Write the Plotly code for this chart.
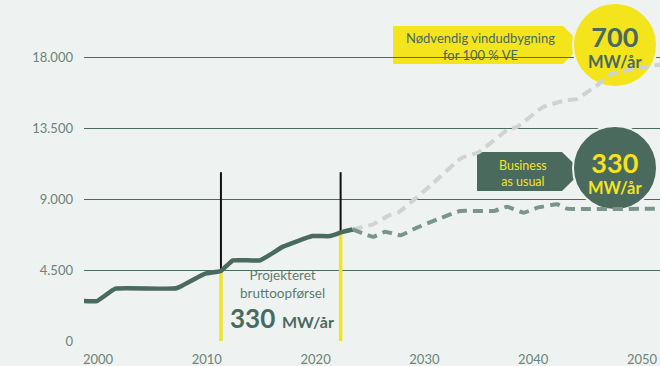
import numpy as np
import plotly.graph_objects as go

# ---------------- data ----------------
hist_years = [1998.7, 1999.9, 2001.6, 2007.2, 2009.8, 2011.3, 2012.4, 2014.9, 2017.0, 2019.7, 2021.3, 2022.4, 2023.4]
hist_vals = [2530, 2530, 3320, 3340, 4260, 4440, 5110, 5110, 5980, 6650, 6650, 6900, 7070]

ve_years = [2023.4, 2025.3, 2026.7, 2027.6, 2030.8, 2033.4, 2035.0, 2037.6, 2038.5, 2040.9, 2043.1, 2044.0, 2045.9, 2047.1, 2049.2, 2051.7]
ve_vals = [7070, 7400, 7950, 8140, 10000, 11600, 11970, 13370, 13560, 14830, 15270, 15330, 16220, 16900, 17250, 17520]

bau_years = [2023.4, 2025.3, 2026.4, 2027.8, 2029.3, 2031.2, 2033.3, 2036.4, 2037.6, 2039.1, 2040.4, 2042.2, 2043.1, 2051.7]
bau_vals = [7070, 6600, 6930, 6700, 7180, 7710, 8240, 8240, 8510, 8130, 8450, 8660, 8390, 8390]

marker_years = [2011.3, 2022.3]
marker_top = 10700

y_ticks = [0, 4500, 9000, 13500, 18000]
y_ticktext = ["0", "4.500", "9.000", "13.500", "18.000"]
x_ticks = [2000, 2010, 2020, 2030, 2040, 2050]
x_ticktext = ["2000", "2010", "2020", "2030", "2040", "2050"]

# ---------------- style ----------------
BG = "#eef2f0"
DARK = "#4a6a5e"
YEL = "#f3e41c"
GRAY = "#cfd3d1"
BAUC = "#7a9589"
TICKC = "#6a857a"
FONT = "Lato"

W, H = 660, 366
L, R, T, B = 84, 0, 0, 25
pw, ph = W - L - R, H - T - B

def px(x):
    return (x - L) / pw

def py(y):
    return (H - B - y) / ph

# axis ranges derived from pixel calibration (2000 at x=98 px, 10.88 px per year)
ppy = 10.88
x_range = [2000 + (L - 98) / ppy, 2000 + (W - 98) / ppy]
y_range = [0, ph / 284 * 18000]

def data_x(xpix):
    return x_range[0] + (xpix - L) / pw * (x_range[1] - x_range[0])

def data_y(ypix):
    return (H - B - ypix) / ph * y_range[1]

fig = go.Figure()

# circles (drawn first so the grey dashed line passes over the yellow one)
fig.add_trace(go.Scatter(
    x=[data_x(615)], y=[data_y(45)], mode="markers",
    marker=dict(size=84, color=YEL, line=dict(color=BG, width=2)),
    hoverinfo="skip", showlegend=False))
fig.add_trace(go.Scatter(
    x=[data_x(615)], y=[data_y(168)], mode="markers",
    marker=dict(size=84, color=DARK, line=dict(color=BG, width=2)),
    hoverinfo="skip", showlegend=False))

# marker vertical lines
for yr in marker_years:
    v = float(np.interp(yr, hist_years, hist_vals))
    fig.add_trace(go.Scatter(x=[yr, yr], y=[0, v], mode="lines",
                             line=dict(color=YEL, width=3.5), hoverinfo="skip", showlegend=False))
    fig.add_trace(go.Scatter(x=[yr, yr], y=[v, marker_top], mode="lines",
                             line=dict(color="#111111", width=2), hoverinfo="skip", showlegend=False))

fig.add_trace(go.Scatter(x=ve_years, y=ve_vals, mode="lines",
                         line=dict(color=GRAY, width=4, dash="10px,6px", shape="spline", smoothing=0.3),
                         hoverinfo="skip", showlegend=False))
fig.add_trace(go.Scatter(x=bau_years, y=bau_vals, mode="lines",
                         line=dict(color=BAUC, width=4, dash="10px,6px", shape="spline", smoothing=0.3),
                         hoverinfo="skip", showlegend=False))
fig.add_trace(go.Scatter(x=hist_years, y=hist_vals, mode="lines",
                         line=dict(color=DARK, width=4.5, shape="spline", smoothing=0.3),
                         hoverinfo="skip", showlegend=False))

# arrow boxes
def arrow_path(x0, x1, tip, y0, y1):
    ym = (y0 + y1) / 2
    pts = [(x0, y0), (x1, y0), (tip, ym), (x1, y1), (x0, y1)]
    s = "M " + " L ".join(f"{px(a):.5f},{py(b):.5f}" for a, b in pts) + " Z"
    return s

shapes = [
    dict(type="path", xref="paper", yref="paper", path=arrow_path(393, 563, 582, 26, 64),
         fillcolor=YEL, line=dict(width=0), layer="between"),
    dict(type="path", xref="paper", yref="paper", path=arrow_path(477, 562, 582, 152, 191),
         fillcolor=DARK, line=dict(width=0), layer="between"),
]

ann = []
def text(x, y, s, size, color):
    ann.append(dict(x=px(x), y=py(y), xref="paper", yref="paper", text=s, showarrow=False,
                    xanchor="center", yanchor="middle", align="center",
                    font=dict(family=FONT, size=size, color=color)))

text(480, 46, "Nødvendig vindudbygning<br>for 100 % VE", 13, DARK)
text(615, 46, "<span style='font-size:27px'><b>700</b></span><br><b>MW/år</b>", 16.5, DARK)

text(523, 173, "Business<br>as usual", 12.5, YEL)
text(615, 172, "<span style='font-size:27px'><b>330</b></span><br><b>MW/år</b>", 16.5, YEL)

text(282, 284, "Projekteret<br>bruttoopførsel", 13.5, "#5e7c6f")
text(282, 318, "<b>330</b> <span style='font-size:16px'><b>MW/år</b></span>", 26, DARK)

fig.update_layout(
    width=W, height=H,
    margin=dict(l=L, r=R, t=T, b=B, pad=0, autoexpand=False),
    paper_bgcolor=BG, plot_bgcolor=BG,
    shapes=shapes, annotations=ann,
    font=dict(family=FONT, color=TICKC, size=13),
    xaxis=dict(range=x_range, tickvals=x_ticks, ticktext=x_ticktext, showgrid=False,
               zeroline=False, showline=False, ticks="", ticklabelstandoff=9, automargin=False,
               tickfont=dict(family=FONT, size=13, color=TICKC), fixedrange=True),
    yaxis=dict(range=y_range, tickvals=y_ticks, ticktext=y_ticktext, showgrid=True,
               gridcolor=DARK, gridwidth=1, zeroline=False, showline=False, ticks="",
               ticklabelstandoff=10, automargin=False,
               tickfont=dict(family=FONT, size=13, color=TICKC), fixedrange=True),
    showlegend=False,
)

fig.write_html("out.html")
